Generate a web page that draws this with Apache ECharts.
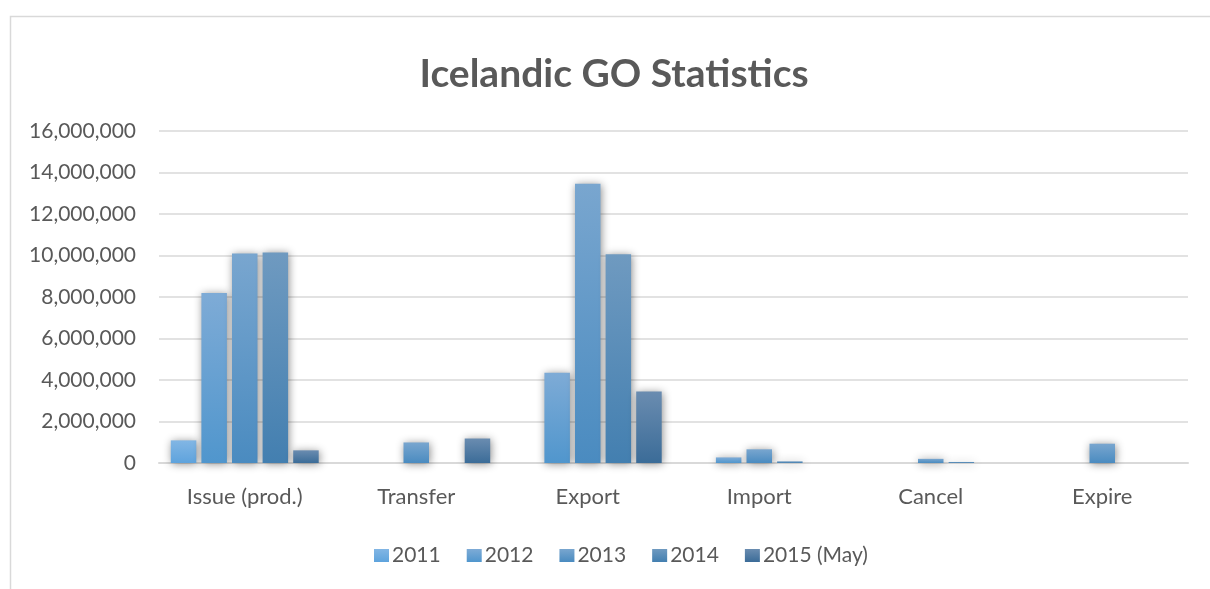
<!DOCTYPE html>
<html>
<head>
<meta charset="utf-8">
<script src="https://cdn.jsdelivr.net/npm/echarts@6/dist/echarts.min.js"></script>
<style>html,body{margin:0;padding:0;background:#fff}#c{width:1210px;height:589px}</style>
</head>
<body>
<div id="c"></div>
<script>
const categories = ['Issue (prod.)', 'Transfer', 'Export', 'Import', 'Cancel', 'Expire'];
const seriesNames = ['2011', '2012', '2013', '2014', '2015 (May)'];
const s2011 = [1090000, null, null, null, null, null];
const s2012 = [8190000, null, 4350000, 270000, null, null];
const s2013 = [10100000, 990000, 13460000, 660000, 200000, 930000];
const s2014 = [10150000, null, 10060000, 80000, 50000, null];
const s2015 = [610000, 1180000, 3440000, null, null, null];
const yTicks = { min: 0, max: 16000000, interval: 2000000 };

const values = [s2011, s2012, s2013, s2014, s2015];
const tops = ['#82b6e4', '#7eabd6', '#79a6cf', '#6f9ac0', '#6a8cb0'];
const bottoms = ['#5ea3dd', '#5096cd', '#4a8bc0', '#437fb0', '#3b6c98'];
const grad = i => new echarts.graphic.LinearGradient(0, 0, 0, 1, [
  { offset: 0, color: tops[i] }, { offset: 1, color: bottoms[i] }]);

const font = 'Lato, "Open Sans", sans-serif';
const chart = echarts.init(document.getElementById('c'), null, { renderer: 'canvas' });
chart.setOption({
  animation: false,
  backgroundColor: '#ffffff',
  graphic: [{
    type: 'rect', left: 8, top: 14, z: -10,
    shape: { width: 1230, height: 600 },
    style: { fill: 'none', stroke: '#d9d9d9', lineWidth: 1.5 }
  }],
  title: {
    text: 'Icelandic GO Statistics',
    left: 609, top: 69, textAlign: 'center', textVerticalAlign: 'middle',
    textStyle: { fontFamily: font, fontWeight: 'bold', fontSize: 39, color: '#595959' }
  },
  legend: {
    left: 369, top: 540,
    itemWidth: 15, itemHeight: 13, itemGap: 26,
    textStyle: { fontFamily: font, fontSize: 21, color: '#595959', padding: [0, 0, 0, -2] },
    data: seriesNames.map((n, i) => ({ name: n, icon: 'rect', itemStyle: { color: grad(i), shadowBlur: 0 } }))
  },
  grid: { left: 159, right: 22, top: 131, bottom: 126, containLabel: false },
  xAxis: {
    type: 'category', data: categories,
    axisLine: { show: true, lineStyle: { color: '#d9d9d9', width: 2 } },
    axisTick: { show: false },
    axisLabel: { margin: 23, fontFamily: font, fontSize: 22, color: '#595959' }
  },
  yAxis: {
    type: 'value', min: yTicks.min, max: yTicks.max, interval: yTicks.interval,
    axisLine: { show: false }, axisTick: { show: false },
    splitLine: { lineStyle: { color: '#d9d9d9', width: 1.5 } },
    axisLabel: { margin: 23, fontFamily: font, fontSize: 21, color: '#595959',
      formatter: v => v.toLocaleString('en-US') }
  },
  series: seriesNames.map((n, i) => ({
    name: n, type: 'bar', data: values[i],
    barWidth: 25.5, barGap: '20%',
    itemStyle: { color: grad(i), shadowBlur: 8, shadowColor: 'rgba(0,0,0,0.45)', shadowOffsetX: 1, shadowOffsetY: 1 }
  }))
});
</script>
</body>
</html>
